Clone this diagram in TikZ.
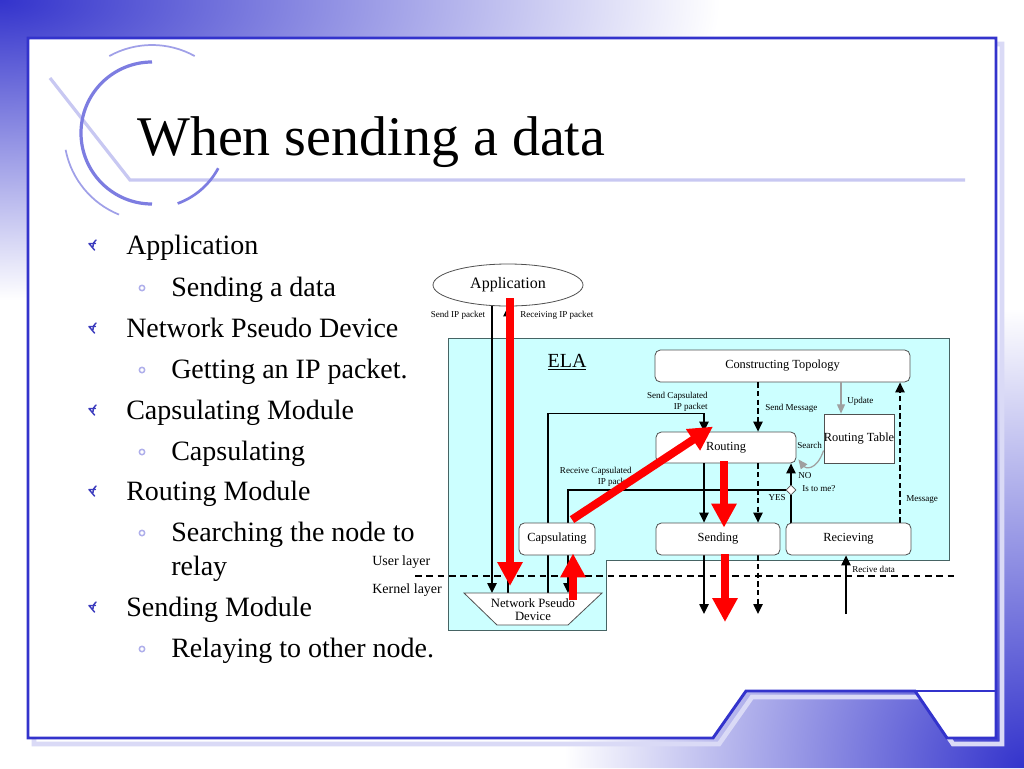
\documentclass[tikz,border=0pt]{standalone}
\usepackage{fontspec}
\setmainfont{Liberation Serif}
\usetikzlibrary{arrows.meta,shapes.geometric,calc}
\definecolor{frameblue}{RGB}{51,51,204}
\definecolor{bulblue}{RGB}{60,60,190}
\definecolor{bullav}{RGB}{175,175,235}
\definecolor{arclav}{RGB}{125,125,225}
\definecolor{arcthin}{RGB}{160,160,232}
\definecolor{linelav}{RGB}{200,200,242}
\definecolor{shadowlav}{RGB}{218,218,246}
\definecolor{elacyan}{RGB}{204,255,255}
\definecolor{elaedge}{RGB}{70,100,100}
\definecolor{boxedge}{RGB}{80,80,80}
\definecolor{redarr}{RGB}{255,0,0}
\begin{document}
\begin{tikzpicture}[x=0.75pt,y=0.75pt,yscale=-1,
  mbox/.style={draw=boxedge, line width=0.6pt, fill=white, rounded corners=4pt, inner sep=0pt, font=\fontsize{9.3}{10}\selectfont},
  lbl/.style={font=\fontsize{6.8}{8}\selectfont, inner sep=0pt},
  blk/.style={draw=black, line width=1.1pt, -{Triangle[width=7pt,length=7.5pt]}},
  dsh/.style={blk, dash pattern=on 4pt off 2.5pt},
  gry/.style={draw=gray!75, line width=0.9pt, -{Triangle[width=6pt,length=7pt]}},
  bigarrow/.style={draw=redarr, line width=6pt, -{Triangle[width=18pt,length=18pt]}},
  lvlA/.style={anchor=base west, inner sep=0pt, font=\fontsize{21}{25}\selectfont},
  bulA/.pic={\draw[bulblue, line width=1.1pt, line cap=round, line join=round] (2.5,-5) -- (-3,1.5) -- (3.5,1.5) (1,-1.5) .. controls (1.5,2.5) .. (4,5);},
  bulB/.pic={\draw[bullav, line width=1.1pt] (0,0) circle (2.7);}
]
\useasboundingbox (0,0) rectangle (1024,768);
\fill[white] (0,0) rectangle (1024,768);
% gradients
\begin{scope}
\clip (0,0) -- (1024,0) -- (1024,37) -- (27,37) -- (27,768) -- (0,768) -- cycle;
\shade[inner color=frameblue, outer color=white] (0,0) ellipse [x radius=720, y radius=300];
\end{scope}
\begin{scope}
\clip (0,768) -- (0,739) -- (713,739) -- (746,691) -- (915,691) -- (947,739) -- (997,739) -- (997,0) -- (1024,0) -- (1024,768) -- cycle;
\shade[inner color=frameblue, outer color=white] (1024,768) circle (460);
\end{scope}
% frame shadow
\begin{scope}[shift={(6,6)}]
\draw[shadowlav, line width=3.5pt] (28,38) -- (996,38) -- (996,738) -- (947,738) -- (915,691) -- (746,691) -- (713,738) -- (28,738) -- cycle;
\end{scope}
\fill[white] (28,38) -- (996,38) -- (996,738) -- (947,738) -- (915,691) -- (746,691) -- (713,738) -- (28,738) -- cycle;
\draw[frameblue, line width=2.2pt, line join=miter] (28,38) -- (996,38) -- (996,738) -- (947,738) -- (915,691) -- (746,691) -- (713,738) -- (28,738) -- cycle;
\draw[frameblue, line width=2.2pt] (915,691) -- (996,691);
% decoration
\draw[linelav, line width=2.4pt] (50,78) -- (130,180) -- (965,180);
\draw[arclav, line width=2.4pt] (152,133) ++(270:71) arc (270:90:71);
\draw[arcthin, line width=1.3pt] (152,133) ++(241:88) arc (241:299:88);
\draw[arcthin, line width=1.3pt] (152,133) ++(169:88) arc (169:112:88);
\draw[arclav, line width=2pt] (152,133) ++(28:75) arc (28:70:75);
% title
\node[anchor=base west, inner sep=0pt, font=\fontsize{42}{50}\selectfont] (title) at (137,155) {When sending a data};
% bullets
\pic at (92,245) {bulA};
\node[lvlA] (b1) at (126,254) {Application};
\pic at (142,288) {bulB};
\node[lvlA] (b2) at (171,296) {Sending a data};
\pic at (92,328) {bulA};
\node[lvlA] (b3) at (126,337) {Network Pseudo Device};
\pic at (142,370) {bulB};
\node[lvlA] (b4) at (171,378) {Getting an IP packet.};
\pic at (92,410) {bulA};
\node[lvlA] (b5) at (126,419) {Capsulating Module};
\pic at (142,452) {bulB};
\node[lvlA] (b6) at (171,460) {Capsulating};
\pic at (92,491) {bulA};
\node[lvlA] (b7) at (126,500) {Routing Module};
\pic at (142,533) {bulB};
\node[lvlA] (b8) at (171,541) {Searching the node to};
\node[lvlA] (b9) at (171,575) {relay};
\pic at (92,607) {bulA};
\node[lvlA] (b10) at (126,616) {Sending Module};
\pic at (142,649) {bulB};
\node[lvlA] (b11) at (171,657) {Relaying to other node.};
% ELA region
\draw[elaedge, fill=elacyan, line width=0.6pt] (448,338) -- (949,338) -- (949,560) -- (606,560) -- (606,630) -- (448,630) -- cycle;
\node[font=\fontsize{15}{17}\selectfont, inner sep=0pt] (ela) at (567,362) {\underline{ELA}};
% layer line
\coordinate (dl) at (415,576);
\coordinate (dr) at (955,576);
\draw[black, line width=1.1pt, dash pattern=on 5pt off 3.5pt] (dl) -- (dr);
\node[anchor=west, inner sep=0pt, font=\fontsize{10.5}{12}\selectfont] (ul) at (372,562) {User layer};
\node[anchor=west, inner sep=0pt, font=\fontsize{10.5}{12}\selectfont] (kl) at (372,590) {Kernel layer};
% nodes
\node[ellipse, draw=boxedge, fill=white, line width=0.6pt, inner sep=0pt, minimum width=112.5pt, minimum height=31.5pt, font=\fontsize{12}{13}\selectfont] (app) at (508,285) {};
\node[mbox, minimum width=191.25pt, minimum height=24pt] (topo) at (782.5,366) {Constructing Topology};
\node[mbox, minimum width=105pt, minimum height=23.25pt] (routing) at (726,447.5) {Routing};
\node[draw=boxedge, fill=white, line width=0.6pt, minimum width=52.5pt, minimum height=36.75pt, inner sep=0pt] (rtable) at (859,438.5) {};
\coordinate (n1) at (492,593);
\coordinate (n2) at (508,593);
\coordinate (n3) at (548,593);
\coordinate (n4) at (568,593);
\coordinate (n5) at (573,600);
\coordinate (xa) at (704,0);
\coordinate (xb) at (758,0);
\coordinate (xd) at (841,0);
\coordinate (xe) at (900,0);
\coordinate (e1) at (704,614);
\coordinate (e2) at (758,614);
\coordinate (e3) at (846,614);
\coordinate (e4) at (725,622);
\node[mbox, minimum width=93pt, minimum height=24pt, draw=none, fill=none] (sending) at (718,539) {};
\node[mbox, minimum width=93.75pt, minimum height=24pt, draw=none, fill=none] (recv) at (848.5,539) {};
\node[mbox, minimum width=57pt, minimum height=24pt, draw=none, fill=none] (caps) at (557,539) {};
\node[diamond, draw=boxedge, fill=white, inner sep=0pt, minimum size=7.5pt, line width=0.5pt] (dia) at (791,490) {};
% connectors
\draw[blk] (app.south -| n1) -- (n1);
\draw[blk] (n2) -- (app.south);
\draw[blk] (n3) |- ($(routing.north -| xa)+(0,-18)$) -- (routing.north -| xa);
\draw[blk] (dia.west) -| (n4);
\draw[blk] (dia.north) -- (dia.north |- routing.south);
\draw[black, line width=1.9pt] (recv.north -| dia.south) -- (dia.south);
\draw[blk] (routing.south -| xa) -- (sending.north -| xa);
\draw[dsh] (topo.south -| xb) -- (routing.north -| xb);
\draw[dsh] (routing.south -| xb) -- (sending.north -| xb);
\draw[gry] (topo.south -| xd) -- (rtable.north -| xd);
\draw[gry] ($(rtable.west)+(0,12)$) .. controls (816,472) and (805,468) .. ($(routing.south east)+(2,-4)$);
\draw[dsh] (recv.north -| xe) -- (topo.south -| xe);
\draw[blk] (sending.south -| xa) -- (e1);
\draw[dsh] (sending.south -| xb) -- (e2);
\draw[blk] (e3) -- (recv.south -| e3);
% boxes over lines
\node[mbox, minimum width=93pt, minimum height=24pt] (sendingbox) at (sending) {Sending};
\node[mbox, minimum width=93.75pt, minimum height=24pt] (recvbox) at (recv) {Recieving};
\node[mbox, minimum width=57pt, minimum height=24pt] (capsbox) at (caps) {Capsulating};
\draw[draw=boxedge, fill=white, line width=0.6pt] (464,593) -- (602,593) -- (568,625) -- (497,625) -- cycle;
\node[font=\fontsize{9.5}{9.75}\selectfont, align=center, inner sep=0pt] (npd) at (533,610) {Network Pseudo\\Device};
\node[font=\fontsize{9.3}{10}\selectfont, inner sep=0pt] (rtlabel) at (rtable.center) {Routing Table};
\node[font=\fontsize{12}{13}\selectfont, inner sep=0pt] (applabel) at (app.center) {Application};
% labels
\node[lbl] (l1) at (458,315) {Send IP packet};
\node[lbl, anchor=west] (l2) at (520,315) {Receiving IP packet};
\node[lbl, anchor=east, align=right] (l3) at (708,402) {Send Capsulated\\IP packet};
\node[lbl, anchor=east, align=right] (l4) at (632,477) {Receive Capsulated\\IP packet};
\node[lbl, anchor=west] (l5) at (765,408) {Send Message};
\node[lbl, anchor=west] (l6) at (847,401) {Update};
\node[lbl, anchor=west] (l7) at (797,445) {Search};
\node[lbl, anchor=west] (l8) at (798,476) {NO};
\node[lbl, anchor=west] (l9) at (802,489) {Is to me?};
\node[lbl, anchor=east] (l10) at (786,498) {YES};
\node[lbl, anchor=west] (l11) at (906,499) {Message};
\node[lbl, anchor=west] (l12) at (852,569) {Recive data};
% red arrows
\draw[bigarrow] ($(app.south)+(2,-8)$) -- ($(n2)+(2,-7)$);
\draw[bigarrow] ($(caps.north)+(15,-3)$) -- ($(routing.north)+(-13,-5)$);
\draw[bigarrow] ($(routing.south)+(-2,-2)$) -- ($(sending.north)+(6,5)$);
\draw[bigarrow] ($(sending.south)+(7,-1)$) -- (e4);
\draw[bigarrow] (n5) -- ($(caps.south)+(16,-2)$);
\end{tikzpicture}
\end{document}
